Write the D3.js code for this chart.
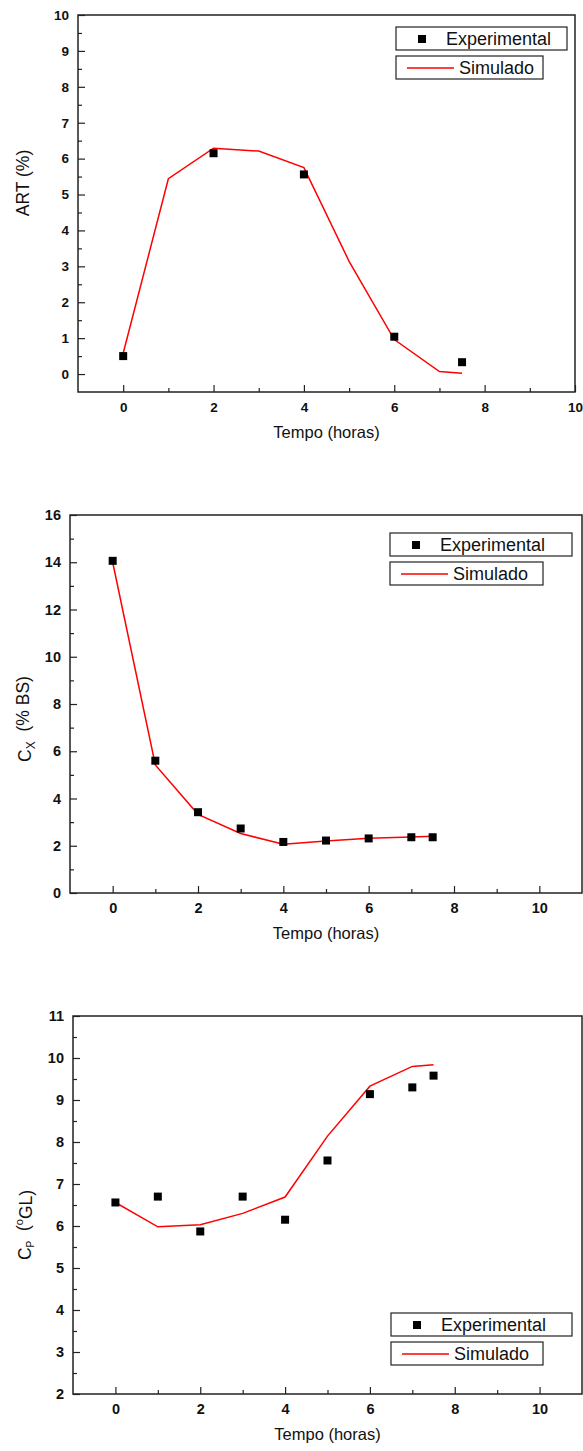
<!DOCTYPE html>
<html>
<head>
<meta charset="utf-8">
<script src="https://cdn.jsdelivr.net/npm/d3@7"></script>
<style>
  body { margin: 0; background: #fff; }
  svg { display: block; font-family: "Liberation Sans", Arial, Helvetica, sans-serif; }
</style>
</head>
<body>
<div id="chart"></div>
<script>
// time in hours
var tempoExp = [0, 2, 4, 6, 7.5];
var tempoSim = [0, 1, 2, 3, 4, 5, 6, 7, 7.5];
var tempoAll = [0, 1, 2, 3, 4, 5, 6, 7, 7.5];

// ART (%)
var artExp = [0.5, 6.15, 5.56, 1.04, 0.33];
var artSim = [0.58, 5.44, 6.29, 6.21, 5.75, 3.14, 0.96, 0.07, 0.02];

// Cx (% BS)
var cxExp = [14.06, 5.6, 3.42, 2.73, 2.16, 2.22, 2.31, 2.36, 2.36];
var cxSim = [14.0, 5.42, 3.33, 2.52, 2.06, 2.2, 2.32, 2.37, 2.4];

// Cp (oGL)
var cpExp = [6.56, 6.7, 5.87, 6.7, 6.15, 7.56, 9.14, 9.3, 9.58];
var cpSim = [6.56, 5.98, 6.03, 6.3, 6.69, 8.14, 9.33, 9.8, 9.84];

var legendLabels = ["Experimental", "Simulado"];
var xLabel = "Tempo (horas)";

var W = 583, H = 1451;
var svg = d3.select("#chart").append("svg").attr("width", W).attr("height", H);

var panels = [
  { x: tempoExp, xs: tempoSim, exp: artExp, sim: artSim,
    left: 78, right: 575, top: 15, bottom: 392,
    xdom: [-1, 10], ydom: [-0.5, 10], ymaj: d3.range(0, 10.01, 1), ymin: d3.range(0.5, 10, 1),
    tickFont: 13.5, ylabX: 23, ylabY: 183,
    leg: { x: 396, y: 27, w1: 171, w2: 147 },
    title: function (t) { t.text("ART (%)"); } },
  { x: tempoAll, xs: tempoSim, exp: cxExp, sim: cxSim,
    left: 70, right: 582, top: 515, bottom: 893,
    xdom: [-1, 11], ydom: [0, 16], ymaj: d3.range(0, 16.01, 2), ymin: d3.range(1, 16, 2),
    tickFont: 14.5, ylabX: 25, ylabY: 719,
    leg: { x: 390, y: 533, w1: 182, w2: 153 },
    title: function (t) {
      t.append("tspan").text("C");
      t.append("tspan").attr("font-size", "12px").attr("dy", "0.3em").text("X");
      t.append("tspan").attr("dy", "-0.3em").text("\u00a0\u00a0(% BS)");
    } },
  { x: tempoAll, xs: tempoSim, exp: cpExp, sim: cpSim,
    left: 73, right: 582, top: 1016, bottom: 1394,
    xdom: [-1, 11], ydom: [2, 11], ymaj: d3.range(2, 11.01, 1), ymin: d3.range(2.5, 11, 1),
    tickFont: 14.5, ylabX: 25, ylabY: 1225,
    leg: { x: 391, y: 1313, w1: 181, w2: 152 },
    title: function (t) {
      t.append("tspan").text("C");
      t.append("tspan").attr("font-size", "10px").attr("dy", "0.3em").text("P");
      t.append("tspan").attr("dy", "-0.3em").text("\u00a0\u00a0(");
      t.append("tspan").attr("font-size", "11px").attr("dy", "-0.5em").text("o");
      t.append("tspan").attr("dy", "0.5em").text("GL)");
    } }
];

panels.forEach(function (p) {
  var x = d3.scaleLinear().domain(p.xdom).range([p.left, p.right]);
  var y = d3.scaleLinear().domain(p.ydom).range([p.bottom, p.top]);
  var g = svg.append("g");

  // minor ticks
  g.append("g").attr("transform", "translate(0," + p.bottom + ")")
    .call(d3.axisBottom(x).tickValues([1, 3, 5, 7, 9]).tickSize(-4).tickFormat(""))
    .call(s => s.select(".domain").remove());
  g.append("g").attr("transform", "translate(" + p.left + ",0)")
    .call(d3.axisLeft(y).tickValues(p.ymin).tickSize(-4).tickFormat(""))
    .call(s => s.select(".domain").remove());

  // major ticks
  var xa = g.append("g").attr("transform", "translate(0," + p.bottom + ")")
    .call(d3.axisBottom(x).tickValues([0, 2, 4, 6, 8, 10]).tickSize(-7).tickPadding(10).tickFormat(d3.format("d")));
  var ya = g.append("g").attr("transform", "translate(" + p.left + ",0)")
    .call(d3.axisLeft(y).tickValues(p.ymaj).tickSize(-7).tickPadding(9).tickFormat(d3.format("d")));
  [xa, ya].forEach(function (a) {
    a.select(".domain").remove();
    a.selectAll("text").attr("font-size", p.tickFont + "px").attr("font-weight", "bold")
      .attr("font-family", "'Liberation Sans', Arial, sans-serif").attr("fill", "#111");
  });
  g.selectAll(".tick line").attr("stroke", "#222").attr("stroke-width", 1.2);

  // frame
  g.append("rect").attr("x", p.left).attr("y", p.top)
    .attr("width", p.right - p.left).attr("height", p.bottom - p.top)
    .attr("fill", "none").attr("stroke", "#222").attr("stroke-width", 1.5);

  // simulated line
  var line = d3.line().x(d => x(d[0])).y(d => y(d[1]));
  g.append("path").datum(p.xs.map((t, i) => [t, p.sim[i]]))
    .attr("d", line).attr("fill", "none").attr("stroke", "#ff0000").attr("stroke-width", 1.5);

  // experimental squares
  g.selectAll(".pt").data(p.x.map((t, i) => [t, p.exp[i]])).enter()
    .append("rect").attr("class", "pt")
    .attr("x", d => x(d[0]) - 4).attr("y", d => y(d[1]) - 4)
    .attr("width", 8).attr("height", 8).attr("fill", "#000");

  // axis titles
  svg.append("text").attr("x", (p.left + p.right) / 2).attr("y", p.bottom + 46)
    .attr("text-anchor", "middle").attr("font-size", "16.5px").attr("fill", "#111").text(xLabel);
  var t = svg.append("text")
    .attr("transform", "translate(" + p.ylabX + "," + p.ylabY + ") rotate(-90)")
    .attr("text-anchor", "middle").attr("dy", "0.35em")
    .attr("font-size", "17.5px").attr("fill", "#111").style("white-space", "pre");
  p.title(t);

  // legend
  var L = p.leg;
  var lg = svg.append("g");
  lg.append("rect").attr("x", L.x).attr("y", L.y).attr("width", L.w1).attr("height", 23)
    .attr("fill", "#fff").attr("stroke", "#222").attr("stroke-width", 1.2);
  lg.append("rect").attr("x", L.x).attr("y", L.y + 29).attr("width", L.w2).attr("height", 23)
    .attr("fill", "#fff").attr("stroke", "#222").attr("stroke-width", 1.2);
  lg.append("rect").attr("x", L.x + 22).attr("y", L.y + 8).attr("width", 8).attr("height", 8).attr("fill", "#000");
  lg.append("text").attr("x", L.x + 50).attr("y", L.y + 18).attr("font-size", "18px").attr("fill", "#111").text(legendLabels[0]);
  lg.append("line").attr("x1", L.x + 11).attr("x2", L.x + 58).attr("y1", L.y + 41).attr("y2", L.y + 41)
    .attr("stroke", "#ff0000").attr("stroke-width", 1.5);
  lg.append("text").attr("x", L.x + 63).attr("y", L.y + 47).attr("font-size", "18px").attr("fill", "#111").text(legendLabels[1]);
});
</script>
</body>
</html>
